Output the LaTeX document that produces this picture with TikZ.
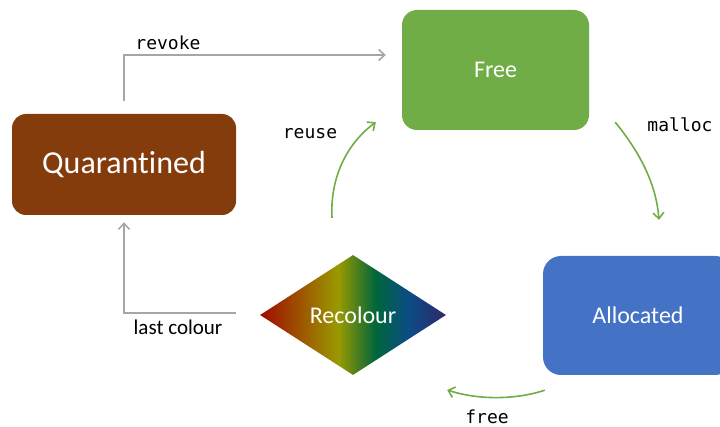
\documentclass[tikz,border=0pt]{standalone}
\usepackage{fontspec}
\setmainfont{Carlito}[Ligatures=NoCommon]
\newfontfamily\codefont{DejaVu Sans Mono}
\usetikzlibrary{shapes.geometric,arrows.meta}

\definecolor{qbrown}{HTML}{843C0C}
\definecolor{fgreen}{HTML}{70AD47}
\definecolor{ablue}{HTML}{4472C4}
\definecolor{lgray}{HTML}{A6A6A6}
\definecolor{rcred}{HTML}{A00A00}
\definecolor{rcolive}{HTML}{9A9A00}
\definecolor{rcgreen}{HTML}{00663A}
\definecolor{rcblue}{HTML}{0B4C86}
\definecolor{rcnavy}{HTML}{30286A}

% left-to-right spectrum for the recolour step
\pgfdeclarehorizontalshading{spectrum}{100bp}{%
  color(0bp)=(rcred); color(25bp)=(rcred); color(46bp)=(rcolive);
  color(56bp)=(rcgreen); color(65bp)=(rcblue); color(75bp)=(rcnavy);
  color(100bp)=(rcnavy)}

\tikzset{
  state/.style={rounded corners=15pt, text=white, inner sep=0pt,
    font=\fontsize{24}{28}\selectfont},
  grayarrow/.style={draw=lgray, line width=1.6pt,
    -{Straight Barb[length=6pt,width=11pt]}},
  greenarrow/.style={draw=fgreen, line width=1.6pt,
    -{Straight Barb[length=6pt,width=11pt]}},
  codelabel/.style={font=\codefont\fontsize{18}{22}\selectfont, text=black},
  textlabel/.style={font=\fontsize{21}{24}\selectfont, text=black},
}

\begin{document}
\begin{tikzpicture}[x=1pt,y=-1pt]
\useasboundingbox (0,0) rectangle (720,427);

% states
\node[state, fill=fgreen, minimum width=187pt, minimum height=120pt]
  (free) at (495.5,70) {Free};
\node[state, fill=qbrown, minimum width=224pt, minimum height=101pt,
  rounded corners=14pt, font=\fontsize{32}{36}\selectfont]
  (quar) at (124,164.5) {Quarantined};
\node[state, fill=ablue, minimum width=190pt, minimum height=119pt,
  rounded corners=18pt]
  (alloc) at (638,315.5) {Allocated};
\node[diamond, shading=spectrum, minimum width=186pt, minimum height=120pt,
  inner sep=0pt, text=white, font=\fontsize{24}{28}\selectfont]
  (recol) at (353,315) {Recolour};

% free ends of the connectors (shifts are in page units, y up)
\coordinate (revokeStart) at ([yshift=13pt]quar.north);
\coordinate (revokeEnd) at ([xshift=-16pt,yshift=15pt]free.west);
\coordinate (lastStart) at ([xshift=-24pt,yshift=2pt]recol.west);
\coordinate (lastEnd) at ([yshift=-7pt]quar.south);
\coordinate (mallocStart) at ([xshift=26pt,yshift=8pt]free.south east);
\coordinate (mallocEnd) at ([xshift=21pt,yshift=36pt]alloc.north);
\coordinate (freeStart) at ([xshift=2pt,yshift=-15pt]alloc.south west);
\coordinate (freeEnd) at ([xshift=1pt,yshift=-75pt]recol.east);
\coordinate (reuseStart) at ([xshift=-21pt,yshift=37pt]recol.north);
\coordinate (reuseEnd) at ([xshift=-26pt,yshift=8pt]free.south west);

% grey elbow connectors
\draw[grayarrow] (revokeStart) |- (revokeEnd);
\draw[grayarrow] (lastStart) -| (lastEnd);

% green cycle
\draw[greenarrow] (mallocStart) .. controls (638,150) and (656,182) .. (mallocEnd);
\draw[greenarrow] (freeStart) .. controls (515,400) and (478,400) .. (freeEnd);
\draw[greenarrow] (reuseStart) .. controls (330,180) and (345,145) .. (reuseEnd);

% labels
\node[codelabel] (lrevoke) at (168,43) {revoke};
\node[codelabel] (lmalloc) at (680,125) {malloc};
\node[codelabel] (lreuse) at (310,134) {reuse};
\node[codelabel] (lfree) at (487,417) {free};
\node[textlabel] (llast) at (178,327) {last colour};
\end{tikzpicture}
\end{document}
